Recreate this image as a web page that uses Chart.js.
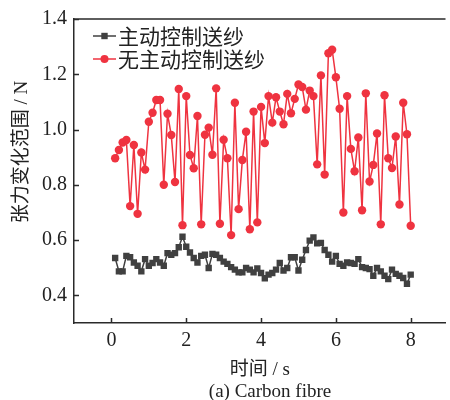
<!DOCTYPE html>
<html>
<head>
<meta charset="utf-8">
<script src="https://cdn.jsdelivr.net/npm/chart.js@4.4.1/dist/chart.umd.min.js"></script>
<style>
  html, body { margin: 0; padding: 0; background: #fff; overflow: hidden; }
  #wrap { width: 450px; height: 400px; }
</style>
</head>
<body>
<div id="wrap"><canvas id="grafico"></canvas></div>
<script>
// Datos
const tiempos = [
  0.1, 0.2, 0.3, 0.4, 0.5, 0.6, 0.7, 0.8, 0.9, 1.0,
  1.1, 1.2, 1.3, 1.4, 1.5, 1.6, 1.7, 1.8, 1.9, 2.0,
  2.1, 2.2, 2.3, 2.4, 2.5, 2.6, 2.7, 2.8, 2.9, 3.0,
  3.1, 3.2, 3.3, 3.4, 3.5, 3.6, 3.7, 3.8, 3.9, 4.0,
  4.1, 4.2, 4.3, 4.4, 4.5, 4.6, 4.7, 4.8, 4.9, 5.0,
  5.1, 5.2, 5.3, 5.4, 5.5, 5.6, 5.7, 5.8, 5.9, 6.0,
  6.1, 6.2, 6.3, 6.4, 6.5, 6.6, 6.7, 6.8, 6.9, 7.0,
  7.1, 7.2, 7.3, 7.4, 7.5, 7.6, 7.7, 7.8, 7.9, 8.0
];
const conControl = [
  0.535, 0.487, 0.487, 0.543, 0.538, 0.519, 0.507, 0.487, 0.531, 0.507,
  0.517, 0.531, 0.519, 0.507, 0.553, 0.547, 0.553, 0.574, 0.612, 0.576,
  0.555, 0.535, 0.519, 0.543, 0.547, 0.499, 0.550, 0.547, 0.535, 0.522,
  0.514, 0.502, 0.493, 0.483, 0.483, 0.499, 0.493, 0.483, 0.497, 0.481,
  0.462, 0.475, 0.481, 0.493, 0.517, 0.490, 0.499, 0.538, 0.538, 0.490,
  0.529, 0.564, 0.598, 0.610, 0.588, 0.590, 0.564, 0.547, 0.522, 0.543,
  0.514, 0.507, 0.519, 0.517, 0.514, 0.531, 0.502, 0.499, 0.495, 0.471,
  0.499, 0.487, 0.471, 0.459, 0.493, 0.478, 0.471, 0.463, 0.442, 0.475
];
const sinControl = [
  0.896, 0.926, 0.953, 0.962, 0.723, 0.944, 0.695, 0.917, 0.855, 1.028,
  1.061, 1.107, 1.107, 0.800, 1.057, 0.980, 0.810, 1.147, 0.654, 1.121,
  0.908, 0.860, 1.049, 0.657, 0.981, 1.007, 0.909, 1.149, 0.659, 0.963,
  0.896, 0.618, 1.097, 0.712, 0.890, 0.992, 0.639, 1.065, 0.664, 1.082,
  0.951, 1.121, 1.025, 1.117, 1.065, 1.019, 1.129, 1.059, 1.111, 1.163,
  1.154, 1.072, 1.141, 1.121, 0.874, 1.196, 0.837, 1.276, 1.289, 1.189,
  1.075, 0.700, 1.121, 0.930, 0.849, 0.971, 0.708, 1.131, 0.812, 0.872,
  0.986, 0.657, 1.124, 0.896, 0.861, 0.975, 0.729, 1.097, 0.983, 0.652
];
const etiquetas = ['主动控制送纱', '无主动控制送纱'];
const ticksX = [0, 2, 4, 6, 8];
const ticksY = [0.4, 0.6, 0.8, 1.0, 1.2, 1.4];

const colorNegro = '#404040';
const colorRojo = '#ef3340';
const colorEje = '#2a2a2a';
const fuenteSerif = "'Liberation Serif', 'Noto Sans CJK SC', serif";
const fuenteCJK = "'Noto Sans CJK SC', 'Liberation Serif', sans-serif";

function puntos(valores) {
  return tiempos.map((t, i) => ({ x: t, y: valores[i] }));
}

// Plugin: marco superior, ticks hacia dentro, leyenda, título del eje Y y pie
const decoraciones = {
  id: 'decoraciones',
  afterDraw(chart) {
    const { ctx, chartArea } = chart;
    const sx = chart.scales.x;
    const sy = chart.scales.y;
    ctx.save();
    ctx.strokeStyle = colorEje;
    ctx.lineWidth = 1.5;
    ctx.beginPath();
    ctx.moveTo(chartArea.left, chartArea.top);
    ctx.lineTo(chartArea.right, chartArea.top);
    ticksX.forEach(v => {
      const px = Math.round(sx.getPixelForValue(v)) + 0.5;
      ctx.moveTo(px, chartArea.bottom);
      ctx.lineTo(px, chartArea.bottom - 5);
    });
    ticksY.forEach(v => {
      const py = Math.round(sy.getPixelForValue(v)) + 0.5;
      ctx.moveTo(chartArea.left, py);
      ctx.lineTo(chartArea.left + 5, py);
    });
    ctx.stroke();

    // Leyenda
    const filas = [36, 59];
    chart.data.datasets.forEach((ds, i) => {
      const y = filas[i];
      ctx.strokeStyle = ds.borderColor;
      ctx.lineWidth = 1.5;
      ctx.beginPath();
      ctx.moveTo(93, y);
      ctx.lineTo(116, y);
      ctx.stroke();
      ctx.fillStyle = ds.backgroundColor;
      ctx.beginPath();
      if (ds.pointStyle === 'rect') {
        ctx.rect(104.5 - 3.2, y - 3.2, 6.4, 6.4);
      } else {
        ctx.arc(104.5, y, 4, 0, Math.PI * 2);
      }
      ctx.fill();
      ctx.fillStyle = '#222';
      ctx.font = '21px ' + fuenteCJK;
      ctx.textBaseline = 'middle';
      ctx.textAlign = 'left';
      ctx.fillText(ds.label, 118, y);
    });

    // Pie de figura
    ctx.fillStyle = '#222';
    ctx.font = '19px ' + fuenteSerif;
    ctx.textAlign = 'center';
    ctx.textBaseline = 'middle';
    ctx.fillText('(a) Carbon fibre', 270, 392);

    // Título eje Y
    ctx.translate(22, 152);
    ctx.rotate(-Math.PI / 2);
    ctx.fillText('张力变化范围 / N', 0, 0);
    ctx.restore();
  }
};

const ctx = document.getElementById('grafico').getContext('2d');
const grafico = new Chart(ctx, {
  type: 'line',
  data: {
    datasets: [{
      label: etiquetas[0],
      data: puntos(conControl),
      borderColor: colorNegro,
      backgroundColor: colorNegro,
      borderWidth: 1.5,
      pointStyle: 'rect',
      pointRadius: 4.5,
      pointBorderWidth: 0,
      tension: 0
    }, {
      label: etiquetas[1],
      data: puntos(sinControl),
      borderColor: colorRojo,
      backgroundColor: colorRojo,
      borderWidth: 1.5,
      pointStyle: 'circle',
      pointRadius: 4.2,
      pointBorderWidth: 0,
      tension: 0
    }]
  },
  options: {
    responsive: true,
    maintainAspectRatio: false,
    animation: false,
    events: [],
    layout: { padding: { top: 17, left: 0, right: 0, bottom: 0 } },
    plugins: {
      legend: { display: false },
      tooltip: { enabled: false }
    },
    scales: {
      x: {
        type: 'linear',
        min: -1,
        max: 8.93,
        afterBuildTicks: scale => { scale.ticks = ticksX.map(v => ({ value: v })); },
        afterFit: scale => { scale.height = 77; },
        grid: { display: false, drawTicks: false },
        border: { display: true, color: colorEje, width: 1.5 },
        ticks: {
          color: '#222',
          padding: 6,
          font: { family: fuenteSerif, size: 20 },
          callback: v => String(v)
        },
        title: {
          display: true,
          text: '时间 / s',
          color: '#222',
          font: { family: fuenteSerif, size: 19, lineHeight: 1.15 },
          padding: { top: 0, bottom: 19 }
        }
      },
      y: {
        min: 0.3,
        max: 1.4,
        afterBuildTicks: scale => { scale.ticks = ticksY.map(v => ({ value: v })); },
        afterFit: scale => { scale.width = 74; },
        grid: { display: false, drawTicks: false },
        border: { display: true, color: colorEje, width: 1.5 },
        ticks: {
          color: '#222',
          padding: 7,
          font: { family: fuenteSerif, size: 20 },
          callback: v => v.toFixed(1)
        }
      }
    }
  },
  plugins: [decoraciones]
});
</script>
</body>
</html>
